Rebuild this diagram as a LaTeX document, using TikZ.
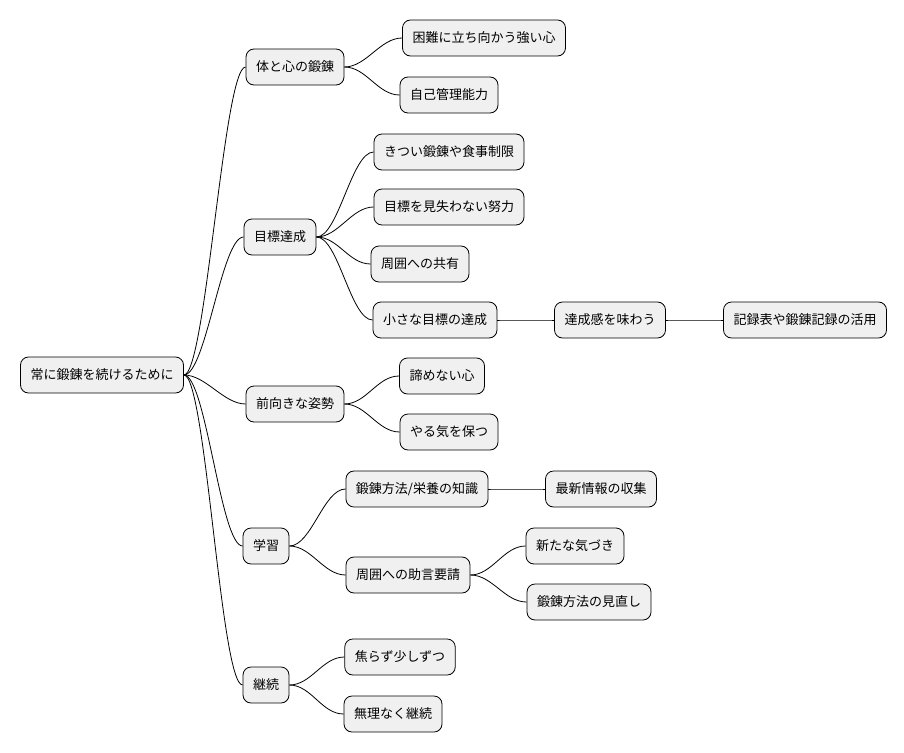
\documentclass[tikz,border=0pt]{standalone}
\usepackage{fontspec}
\newfontfamily\cjk{Noto Sans CJK JP}
\usetikzlibrary{positioning}
\tikzset{
    topic/.style={draw, rounded corners=8pt, fill=black!6, font=\cjk\fontsize{13}{15}\selectfont, minimum height=36pt, inner xsep=10pt, line width=0.8pt},
    link/.style={line width=0.8pt}
}
\begin{document}
\begin{tikzpicture}[x=1pt, y=-1pt]
    \useasboundingbox (0,0) rectangle (904,752);

    \node[topic] (root) at (102,375) {常に鍛錬を続けるために};

    \node[topic] (body) at (295,67) {体と心の鍛錬};
    \node[topic] (goal) at (280,237) {目標達成};
    \node[topic] (mind) at (295,404) {前向きな姿勢};
    \node[topic] (learn) at (266,546) {学習};
    \node[topic] (keep) at (266,685) {継続};

    \node[topic] (hard) at (484,38) {困難に立ち向かう強い心};
    \node[topic] (self) at (449,95) {自己管理能力};
    \node[topic] (diet) at (449,152) {きつい鍛錬や食事制限};
    \node[topic] (effort) at (449,207) {目標を見失わない努力};
    \node[topic] (share) at (420,264) {周囲への共有};
    \node[topic] (small) at (435,320) {小さな目標の達成};
    \node[topic] (feel) at (610,320) {達成感を味わう};
    \node[topic] (record) at (805,320) {記録表や鍛錬記録の活用};
    \node[topic] (never) at (442,376) {諦めない心};
    \node[topic] (moti) at (449,432) {やる気を保つ};
    \node[topic] (know) at (417,489) {鍛錬方法/栄養の知識};
    \node[topic] (news) at (601,489) {最新情報の収集};
    \node[topic] (advice) at (408,575) {周囲への助言要請};
    \node[topic] (notice) at (575,546) {新たな気づき};
    \node[topic] (review) at (589,602) {鍛錬方法の見直し};
    \node[topic] (slow) at (400,657) {焦らず少しずつ};
    \node[topic] (easy) at (393,714) {無理なく継続};

    \foreach \p/\c in {root/body, root/goal, root/mind, root/learn, root/keep,
        body/hard, body/self, goal/diet, goal/effort, goal/share, goal/small,
        small/feel, feel/record, mind/never, mind/moti, learn/know, learn/advice,
        know/news, advice/notice, advice/review, keep/slow, keep/easy} {
        \draw[link] (\p.east) .. controls +(22,0) and +(-22,0) .. (\c.west);
    }
\end{tikzpicture}
\end{document}
